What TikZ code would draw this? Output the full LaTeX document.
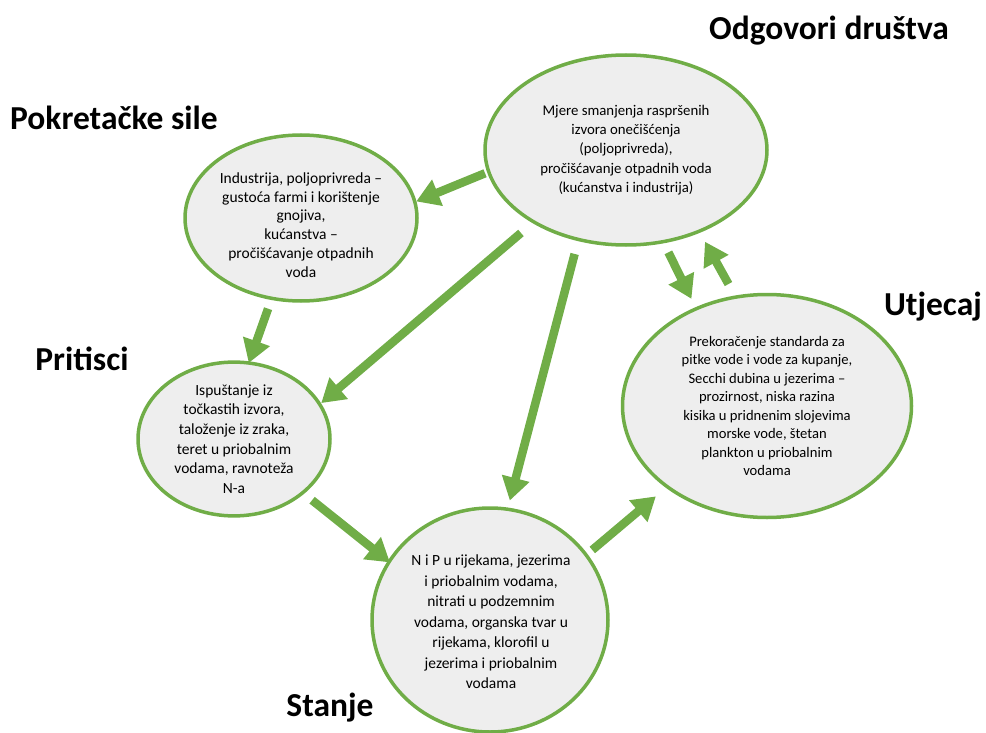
\documentclass[tikz,border=0pt]{standalone}
\usepackage{fontspec}
\setmainfont{Carlito}
\usetikzlibrary{arrows.meta,shapes.geometric}
\definecolor{grn}{HTML}{70AD47}
\definecolor{fillg}{HTML}{EEEEEE}
\begin{document}
\begin{tikzpicture}[x=1pt,y=-1pt,
  bubble/.style={ellipse,draw=grn,line width=3.5pt,fill=fillg,inner sep=0pt,outer sep=0pt,align=center},
  bodytext/.style={inner sep=0pt,align=center},
  title/.style={font=\fontsize{33.5}{38}\selectfont\bfseries,inner sep=0pt},
  arr/.style={draw=grn,line width=8.5pt,-{Triangle[length=23pt,width=27pt]}}]
\useasboundingbox (0,0) rectangle (986,733);

\node[bubble,minimum width=282pt,minimum height=190pt,font=\fontsize{14.8}{19.3}\selectfont] (odg) at (626,150)
  {Mjere smanjenja raspršenih\\ izvora onečišćenja\\ (poljoprivreda),\\ pročišćavanje otpadnih voda\\ (kućanstva i industrija)};
\node[bubble,minimum width=232pt,minimum height=166pt] (pok) at (301,218) {};
\node[bodytext,font=\fontsize{15.5}{18.8}\selectfont] (pokt) at (301,225)
  {Industrija, poljoprivreda –\\ gustoća farmi i korištenje\\ gnojiva,\\ kućanstva –\\ pročišćavanje otpadnih\\ voda};
\node[bubble,minimum width=192pt,minimum height=150pt,font=\fontsize{15.5}{19.6}\selectfont] (pri) at (234,439)
  {Ispuštanje iz\\ točkastih izvora,\\ taloženje iz zraka,\\ teret u priobalnim\\ vodama, ravnoteža\\ N-a};
\node[bubble,minimum width=236pt,minimum height=224pt] (sta) at (490,620) {};
\node[bodytext,font=\fontsize{15.5}{20.5}\selectfont] (stat) at (491,622)
  {N i P u rijekama, jezerima\\ i priobalnim vodama,\\ nitrati u podzemnim\\ vodama, organska tvar u\\ rijekama, klorofil u\\ jezerima i priobalnim\\ vodama};
\node[bubble,minimum width=289pt,minimum height=223pt,font=\fontsize{14.6}{18.5}\selectfont] (utj) at (767,406)
  {Prekoračenje standarda za\\ pitke vode i vode za kupanje,\\ Secchi dubina u jezerima –\\ prozirnost, niska razina\\ kisika u pridnenim slojevima\\ morske vode, štetan\\ plankton u priobalnim\\ vodama};

\node[title] (todg) at (829,31) {Odgovori društva};
\node[title] (tpok) at (114,118) {Pokretačke sile};
\node[title] (tpri) at (82,359) {Pritisci};
\node[title] (tutj) at (933,307) {Utjecaj};
\node[title] (tsta) at (330,708) {Stanje};

\draw[arr,shorten <=4pt,shorten >=1.5pt] (odg.189) -- (pok.8);
\draw[arr,shorten <=11pt,shorten >=0pt] (pok.250) -- (pri.79);
\draw[arr,shorten <=17pt,shorten >=2pt] (odg.218) -- (pri.22);
\draw[arr,shorten <=15pt,shorten >=9pt] (odg.242) -- (sta.81);
\draw[arr,shorten <=12pt,shorten >=-1pt] (pri.322) -- (sta.150);
\draw[arr,shorten <=8pt,shorten >=15pt] (sta.34) -- (utj.219);
\draw[arr,shorten <=12pt,shorten >=11pt] (odg.292) -- (utj.126);
\draw[arr,shorten <=15pt,shorten >=12pt] (utj.106) -- (odg.312);
\end{tikzpicture}
\end{document}
